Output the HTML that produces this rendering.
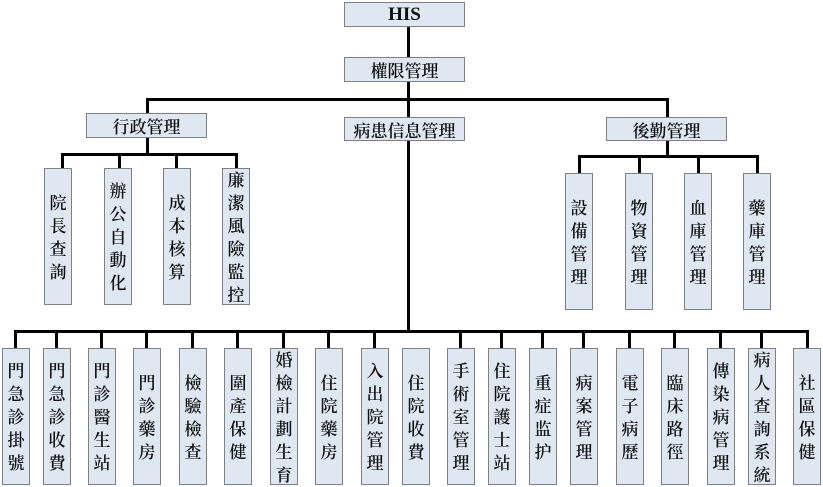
<!DOCTYPE html>
<html><head><meta charset="utf-8"><style>
body{margin:0;background:#fff;width:823px;height:486px;position:relative;overflow:hidden;font-family:"Liberation Serif","Noto Serif CJK SC",serif;}
.b{position:absolute;background:#dfe7f3;border:1px solid #808080;box-sizing:border-box;display:flex;align-items:center;justify-content:center;color:#111;font-size:17px;font-weight:600;}
.v{flex-direction:column;line-height:23px;text-align:center;width:28px;padding-top:2px}
.l{position:absolute;background:#000;}
</style></head><body>
<div class="l" style="left:407px;top:26px;width:3px;height:31px"></div>
<div class="l" style="left:407px;top:81px;width:3px;height:36px"></div>
<div class="l" style="left:147px;top:98px;width:522px;height:3px"></div>
<div class="l" style="left:146px;top:98px;width:3px;height:16px"></div>
<div class="l" style="left:666px;top:98px;width:3px;height:19px"></div>
<div class="l" style="left:407px;top:140px;width:3px;height:192px"></div>
<div class="l" style="left:146px;top:137px;width:3px;height:17px"></div>
<div class="l" style="left:61px;top:153px;width:177px;height:3px"></div>
<div class="l" style="left:61px;top:153px;width:3px;height:15px"></div>
<div class="l" style="left:118px;top:153px;width:3px;height:15px"></div>
<div class="l" style="left:175px;top:153px;width:3px;height:15px"></div>
<div class="l" style="left:235px;top:153px;width:3px;height:15px"></div>
<div class="l" style="left:666px;top:140px;width:3px;height:17px"></div>
<div class="l" style="left:578px;top:155px;width:180px;height:3px"></div>
<div class="l" style="left:578px;top:155px;width:3px;height:18px"></div>
<div class="l" style="left:638px;top:155px;width:3px;height:18px"></div>
<div class="l" style="left:697px;top:155px;width:3px;height:18px"></div>
<div class="l" style="left:756px;top:155px;width:3px;height:18px"></div>
<div class="l" style="left:14px;top:330px;width:795px;height:3px"></div>
<div class="l" style="left:14px;top:330px;width:3px;height:18px"></div>
<div class="l" style="left:55px;top:330px;width:3px;height:18px"></div>
<div class="l" style="left:100px;top:330px;width:3px;height:18px"></div>
<div class="l" style="left:145px;top:330px;width:3px;height:18px"></div>
<div class="l" style="left:191px;top:330px;width:3px;height:18px"></div>
<div class="l" style="left:236px;top:330px;width:3px;height:18px"></div>
<div class="l" style="left:282px;top:330px;width:3px;height:18px"></div>
<div class="l" style="left:327px;top:330px;width:3px;height:18px"></div>
<div class="l" style="left:373px;top:330px;width:3px;height:18px"></div>
<div class="l" style="left:459px;top:330px;width:3px;height:18px"></div>
<div class="l" style="left:500px;top:330px;width:3px;height:18px"></div>
<div class="l" style="left:541px;top:330px;width:3px;height:18px"></div>
<div class="l" style="left:582px;top:330px;width:3px;height:18px"></div>
<div class="l" style="left:628px;top:330px;width:3px;height:18px"></div>
<div class="l" style="left:673px;top:330px;width:3px;height:18px"></div>
<div class="l" style="left:719px;top:330px;width:3px;height:18px"></div>
<div class="l" style="left:760px;top:330px;width:3px;height:18px"></div>
<div class="l" style="left:806px;top:330px;width:3px;height:18px"></div>
<div class="b" style="left:344px;top:2px;width:121px;height:25px;font-weight:bold;font-size:19px">HIS</div>
<div class="b" style="left:344px;top:57px;width:121px;height:25px">權限管理</div>
<div class="b" style="left:86px;top:113px;width:121px;height:25px">行政管理</div>
<div class="b" style="left:344px;top:117px;width:121px;height:24px">病患信息管理</div>
<div class="b" style="left:606px;top:117px;width:121px;height:24px">後勤管理</div>
<div class="b v" style="left:44px;top:168px;height:137px">院<br>長<br>查<br>詢</div>
<div class="b v" style="left:104px;top:168px;height:137px">辦<br>公<br>自<br>動<br>化</div>
<div class="b v" style="left:163px;top:168px;height:137px">成<br>本<br>核<br>算</div>
<div class="b v" style="left:222px;top:168px;height:137px">廉<br>潔<br>風<br>險<br>監<br>控</div>
<div class="b v" style="left:565px;top:173px;height:137px">設<br>備<br>管<br>理</div>
<div class="b v" style="left:625px;top:173px;height:137px">物<br>資<br>管<br>理</div>
<div class="b v" style="left:684px;top:173px;height:137px">血<br>庫<br>管<br>理</div>
<div class="b v" style="left:743px;top:173px;height:137px">藥<br>庫<br>管<br>理</div>
<div class="b v" style="left:2px;top:348px;height:137px">門<br>急<br>診<br>掛<br>號</div>
<div class="b v" style="left:43px;top:348px;height:137px">門<br>急<br>診<br>收<br>費</div>
<div class="b v" style="left:88px;top:348px;height:137px">門<br>診<br>醫<br>生<br>站</div>
<div class="b v" style="left:133px;top:348px;height:137px">門<br>診<br>藥<br>房</div>
<div class="b v" style="left:179px;top:348px;height:137px">檢<br>驗<br>檢<br>查</div>
<div class="b v" style="left:224px;top:348px;height:137px">圍<br>產<br>保<br>健</div>
<div class="b v" style="left:270px;top:348px;height:137px">婚<br>檢<br>計<br>劃<br>生<br>育</div>
<div class="b v" style="left:315px;top:348px;height:137px">住<br>院<br>藥<br>房</div>
<div class="b v" style="left:361px;top:348px;height:137px">入<br>出<br>院<br>管<br>理</div>
<div class="b v" style="left:402px;top:348px;height:137px">住<br>院<br>收<br>費</div>
<div class="b v" style="left:447px;top:348px;height:137px">手<br>術<br>室<br>管<br>理</div>
<div class="b v" style="left:488px;top:348px;height:137px">住<br>院<br>護<br>士<br>站</div>
<div class="b v" style="left:529px;top:348px;height:137px">重<br>症<br>监<br>护</div>
<div class="b v" style="left:570px;top:348px;height:137px">病<br>案<br>管<br>理</div>
<div class="b v" style="left:616px;top:348px;height:137px">電<br>子<br>病<br>歷</div>
<div class="b v" style="left:661px;top:348px;height:137px">臨<br>床<br>路<br>徑</div>
<div class="b v" style="left:707px;top:348px;height:137px">傳<br>染<br>病<br>管<br>理</div>
<div class="b v" style="left:748px;top:348px;height:137px">病<br>人<br>查<br>詢<br>系<br>統</div>
<div class="b v" style="left:793px;top:348px;height:137px">社<br>區<br>保<br>健</div>
</body></html>
